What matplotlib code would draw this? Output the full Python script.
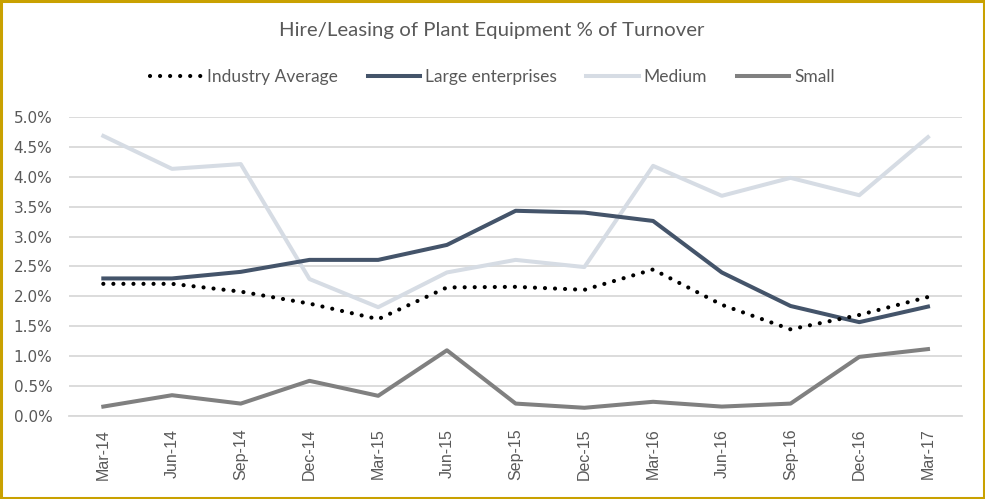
import matplotlib.pyplot as plt
from matplotlib.patches import Rectangle
from matplotlib.ticker import PercentFormatter

# quarters on the x axis
quarters = ['Mar-14', 'Jun-14', 'Sep-14', 'Dec-14', 'Mar-15', 'Jun-15', 'Sep-15',
            'Dec-15', 'Mar-16', 'Jun-16', 'Sep-16', 'Dec-16', 'Mar-17']

# % of turnover
industry_avg = [2.21, 2.21, 2.08, 1.88, 1.62, 2.15, 2.16, 2.11, 2.45, 1.86, 1.45, 1.69, 1.99]
large = [2.30, 2.30, 2.41, 2.61, 2.61, 2.86, 3.43, 3.40, 3.26, 2.40, 1.84, 1.57, 1.83]
medium = [4.68, 4.13, 4.21, 2.29, 1.82, 2.40, 2.61, 2.49, 4.18, 3.68, 3.98, 3.69, 4.66]
small = [0.16, 0.35, 0.21, 0.59, 0.34, 1.10, 0.21, 0.14, 0.24, 0.16, 0.21, 0.99, 1.12]

fig = plt.figure(figsize=(9.85, 4.99), dpi=100)
ax = fig.add_axes([0.070, 0.166, 0.907, 0.600])

x = range(len(quarters))
ax.plot(x, industry_avg, color='black', lw=3.0, linestyle=(0, (0.01, 2.4)),
        dash_capstyle='round', label='Industry Average', zorder=5)
ax.plot(x, large, color='#44546A', lw=2.9, label='Large enterprises', zorder=4)
ax.plot(x, medium, color='#D6DCE4', lw=2.9, label='Medium', zorder=3)
ax.plot(x, small, color='#808080', lw=2.9, label='Small', zorder=3)

ax.set_xlim(-0.5, len(quarters) - 0.5)
ax.set_ylim(0, 5)
ax.set_yticks([i * 0.5 for i in range(11)])
ax.yaxis.set_major_formatter(PercentFormatter(decimals=1))
ax.grid(axis='y', color='#D9D9D9', lw=1.3)
ax.set_axisbelow(True)
for s in ax.spines.values():
    s.set_visible(False)
ax.spines['bottom'].set_visible(True)
ax.spines['bottom'].set_color('#D9D9D9')
ax.spines['bottom'].set_linewidth(1.3)

ax.set_xticks(list(x))
ax.set_xticklabels(quarters, rotation=90, fontsize=11.5, color='#595959',
                   family='Liberation Sans')
ax.tick_params(axis='x', length=0, pad=9)
ax.tick_params(axis='y', length=0, labelsize=11, labelcolor='#595959', pad=12)

fig.text(0.499, 0.938, 'Hire/Leasing of Plant Equipment % of Turnover',
         ha='center', va='center', fontsize=14.7, color='#595959', family='Lato')

ax.legend(loc='center', bbox_to_anchor=(0.474, 1.133), ncol=4, frameon=False,
          labelcolor='#595959', handlelength=3.0, handletextpad=0.3,
          columnspacing=1.7, prop={'family': 'Lato', 'size': 12.5})

# gold frame round the whole chart
fig.patches.append(Rectangle((0.0015, 0.003), 0.997, 0.994, transform=fig.transFigure,
                             fill=False, edgecolor='#C9A100', lw=2.2))

fig.savefig('out.png', dpi=100)
